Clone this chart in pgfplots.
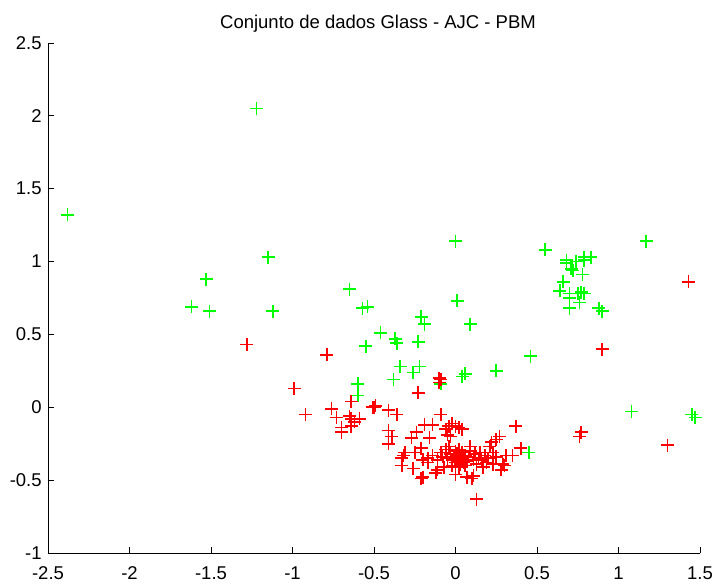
\documentclass[border=0pt]{standalone}
\usepackage{fontspec}
\setmainfont{Liberation Sans}
\usepackage{pgfplots}
\pgfplotsset{compat=1.18}
\definecolor{mgreen}{rgb}{0,1,0}
\definecolor{mred}{rgb}{1,0,0}
\begin{document}
\fontsize{18.5}{22}\selectfont
\begin{tikzpicture}
\begin{axis}[name=ax, scale only axis, width=652pt, height=510pt,
 xmin=-2.5, xmax=1.5, ymin=-1, ymax=2.5,
 axis x line=bottom, axis y line=left,
 axis line style={-, black, line width=0.8pt},
 xtick={-2.5,-2,-1.5,-1,-0.5,0,0.5,1,1.5},
 ytick={-1,-0.5,0,0.5,1,1.5,2,2.5},
 tick align=inside, major tick length=6pt, tick style={black, line width=0.8pt},
 /pgf/number format/assume math mode=true,
 ticklabel style={font=\fontsize{18.5}{22}\selectfont},
 xticklabel style={yshift=-7pt},
 title={Conjunto de dados Glass - AJC - PBM},
 title style={font=\fontsize{18.5}{22}\selectfont, at={(0.5,1)}, anchor=base, yshift=8pt, xshift=4pt},
 clip=false,
]
\addplot[only marks, mark=+, mark size=6.5pt, color=mgreen, mark options={line width=1.6pt}] coordinates {
(-2.38,1.32) (-1.22,2.05) (-1.15,1.03) (-1.53,0.88) (-1.62,0.69) (-1.51,0.66) (-1.12,0.66)
(-0.65,0.81) (0.00,1.14) (0.55,1.08) (0.01,0.73) (-0.57,0.68) (-0.54,0.69) (-0.21,0.62)
(-0.19,0.57) (0.09,0.57) (-0.46,0.51) (-0.37,0.47) (-0.36,0.44) (-0.23,0.45) (-0.55,0.42)
(0.46,0.35) (-0.34,0.28) (-0.22,0.28) (-0.26,0.24) (0.06,0.23) (0.04,0.21) (0.25,0.25)
(-0.38,0.19) (-0.60,0.16) (-0.60,0.08) (-0.09,0.16) (0.45,-0.31) (1.17,1.14)
(0.68,1.01) (0.68,0.99) (0.74,1.00) (0.79,1.01) (0.79,1.03) (0.83,1.03) (0.71,0.95)
(0.72,0.94) (0.78,0.91) (0.66,0.86) (0.64,0.80) (0.70,0.78) (0.70,0.75) (0.75,0.78)
(0.77,0.79) (0.79,0.78) (0.76,0.72) (0.70,0.68) (0.88,0.68) (0.90,0.66)
(1.08,-0.03) (1.45,-0.05) (1.47,-0.07)
};
\addplot[only marks, mark=+, mark size=6.5pt, color=mred, mark options={line width=1.6pt}] coordinates {
(-1.28,0.43) (-0.79,0.36) (1.43,0.86) (0.90,0.40) (0.77,-0.17) (0.76,-0.20) (1.30,-0.26)
(-0.10,0.20) (-0.09,0.19) (-0.10,0.17) (-0.99,0.13) (-0.23,0.10) (-0.64,0.04) (-0.92,-0.05)
(-0.76,-0.01) (-0.73,-0.07) (-0.65,-0.06) (-0.64,-0.13) (-0.59,-0.08) (-0.70,-0.14) (-0.70,-0.17)
(-0.50,0.00) (-0.49,0.01) (-0.51,0.00) (-0.41,-0.02) (-0.36,-0.05) (-0.64,-0.08) (-0.62,-0.10)
(-0.41,-0.16) (-0.39,-0.20) (-0.41,-0.25) (-0.27,-0.21) (-0.24,-0.17) (-0.19,-0.12) (-0.16,-0.21)
(-0.14,-0.12) (-0.21,-0.28) (-0.33,-0.35) (-0.32,-0.33) (-0.33,-0.40) (-0.26,-0.42) (-0.21,-0.49)
(-0.20,-0.36) (-0.17,-0.35) (-0.17,-0.38) (-0.14,-0.33) (-0.11,-0.36) (-0.09,-0.05) (0.37,-0.13)
(0.27,-0.20) (0.25,-0.22) (0.40,-0.28) (0.13,-0.63) (-0.06,-0.15) (-0.04,-0.13) (0.02,-0.14)
(-0.02,-0.11) (-0.03,-0.20) (0.00,-0.13) (-0.05,-0.19) (0.04,-0.15) (0.09,-0.27) (0.21,-0.27)
(0.22,-0.24) (0.31,-0.33) (0.30,-0.40) (0.28,-0.43) (0.11,-0.47) (0.10,-0.49) (-0.12,-0.45)
(-0.20,-0.48) (-0.31,-0.31) (-0.25,-0.31) (-0.09,-0.31) (-0.04,-0.27) (0.02,-0.29) (-0.02,-0.36)
(0.04,-0.36) (0.00,-0.38) (0.02,-0.41) (-0.11,-0.43) (-0.07,-0.41) (0.00,-0.46) (0.07,-0.48)
(0.35,-0.33) (0.23,-0.31) (0.18,-0.33) (0.14,-0.35) (0.11,-0.36) (0.07,-0.37) (0.29,-0.39)
(0.23,-0.39) (0.19,-0.38) (0.09,-0.30)
(0.00,-0.30) (0.01,-0.32) (0.03,-0.33) (0.05,-0.34) (-0.01,-0.34) (0.02,-0.35) (0.04,-0.31)
(0.06,-0.33) (0.08,-0.34) (-0.03,-0.32) (-0.05,-0.35) (0.01,-0.37) (0.03,-0.39) (0.05,-0.38)
(-0.02,-0.40) (0.12,-0.32) (0.15,-0.31) (0.16,-0.36) (0.20,-0.35) (0.25,-0.34) (-0.06,-0.29)
(-0.08,-0.34) (0.06,-0.40) (0.13,-0.39) (0.17,-0.41)
};
\end{axis}
\pgfresetboundingbox
\path ([shift={(-48pt,-30pt)}]ax.south west) rectangle ([shift={(15pt,43pt)}]ax.north east);
\end{tikzpicture}
\end{document}
